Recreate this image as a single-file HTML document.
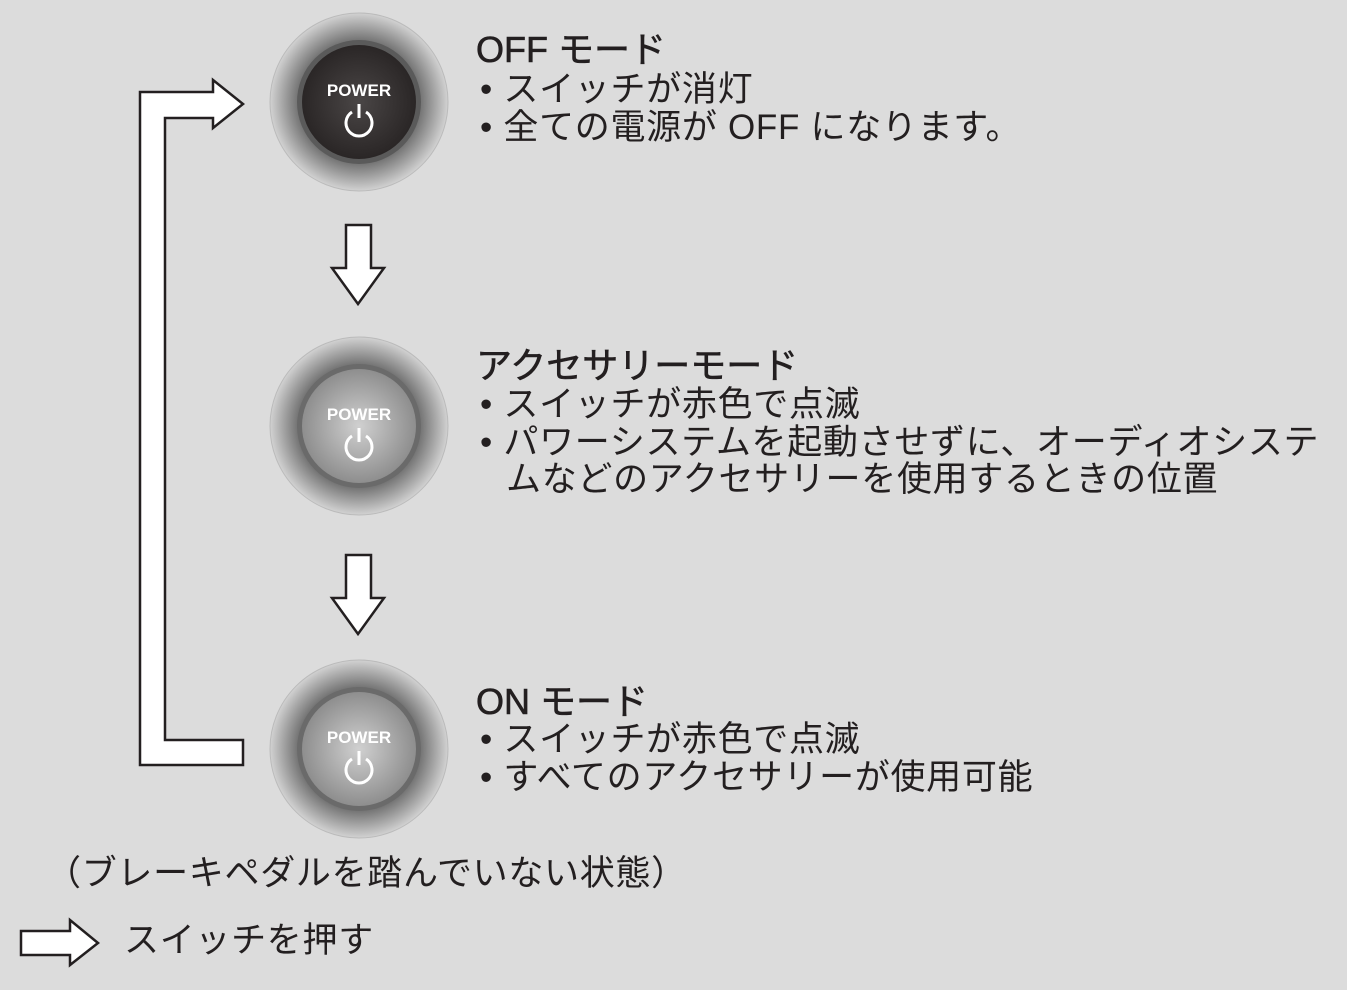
<!DOCTYPE html>
<html><head><meta charset="utf-8"><style>
body{margin:0;width:1347px;height:990px;background:#dcdcdc;position:relative;overflow:hidden;font-family:"Liberation Sans","Noto Sans CJK JP",sans-serif;color:#231f20}
.t{position:absolute;font-size:35px;line-height:38px;white-space:nowrap;letter-spacing:0.7px}
.h{font-size:36px;-webkit-text-stroke:0.6px #231f20;letter-spacing:0}
</style></head><body>
<svg width="1347" height="990" style="position:absolute;left:0;top:0">
<defs>
<radialGradient id="halo" cx="50%" cy="50%" r="50%">
<stop offset="0.66" stop-color="#6a6a6a"/><stop offset="0.85" stop-color="#a4a4a4"/><stop offset="1" stop-color="#d2d2d2"/>
</radialGradient>
<radialGradient id="dark" cx="50%" cy="50%" r="50%"><stop offset="0" stop-color="#4a4646"/><stop offset="1" stop-color="#2a2626"/></radialGradient>
<radialGradient id="light" cx="50%" cy="50%" r="50%"><stop offset="0" stop-color="#d0d0d0"/><stop offset="1" stop-color="#8e8e8e"/></radialGradient>
</defs>
<circle cx="359" cy="102" r="89" fill="url(#halo)" stroke="#bbb" stroke-width="1"/>
<circle cx="359" cy="102" r="62" fill="#5a5a5a"/>
<circle cx="359" cy="102" r="57" fill="url(#dark)"/>
<circle cx="359" cy="426" r="89" fill="url(#halo)" stroke="#bbb"/>
<circle cx="359" cy="426" r="62" fill="#6a6a6a"/>
<circle cx="359" cy="426" r="57" fill="url(#light)"/>
<circle cx="359" cy="749" r="89" fill="url(#halo)" stroke="#bbb"/>
<circle cx="359" cy="749" r="62" fill="#6a6a6a"/>
<circle cx="359" cy="749" r="57" fill="url(#light)"/>
<g fill="#fff" font-family="Liberation Sans" font-weight="bold" font-size="17" text-anchor="middle">
<text x="359" y="96">POWER</text><text x="359" y="420">POWER</text><text x="359" y="743">POWER</text>
</g>
<g fill="none" stroke="#fff" stroke-width="3">
<path d="M352 112 a13 13 0 1 0 14 0 M359 104 v14"/>
<path d="M352 436 a13 13 0 1 0 14 0 M359 428 v14"/>
<path d="M352 759 a13 13 0 1 0 14 0 M359 751 v14"/>
</g>
<g fill="#fff" stroke="#231f20" stroke-width="2.5" stroke-linejoin="miter">
<path d="M140 765 V92 H213 V80 L243 104 L213 128 V118 H165 V740 H243 V765 Z"/>
<path d="M346 225 H371 V268 H384 L358 304 L332 268 H346 Z"/>
<path d="M346 555 H371 V598 H384 L358 634 L332 598 H346 Z"/>
<path d="M21 931 H70 V920 L98 943 L70 965 V955 H21 Z"/>
</g>
</svg>
<div class="t h" style="left:476px;top:31px">OFF モード</div>
<div class="t" style="left:480px;top:71px">• スイッチが消灯</div>
<div class="t" style="left:480px;top:109px">• 全ての電源が OFF になります。</div>
<div class="t h" style="left:476px;top:347px">アクセサリーモード</div>
<div class="t" style="left:480px;top:386px">• スイッチが赤色で点滅</div>
<div class="t" style="left:480px;top:424px">• パワーシステムを起動させずに、オーディオシステ</div>
<div class="t" style="left:506px;top:461px">ムなどのアクセサリーを使用するときの位置</div>
<div class="t h" style="left:476px;top:683px">ON モード</div>
<div class="t" style="left:480px;top:721px">• スイッチが赤色で点滅</div>
<div class="t" style="left:480px;top:759px">• すべてのアクセサリーが使用可能</div>
<div class="t" style="left:46px;top:855px">（ブレーキペダルを踏んでいない状態）</div>
<div class="t" style="left:124px;top:922px">スイッチを押す</div>
</body></html>
